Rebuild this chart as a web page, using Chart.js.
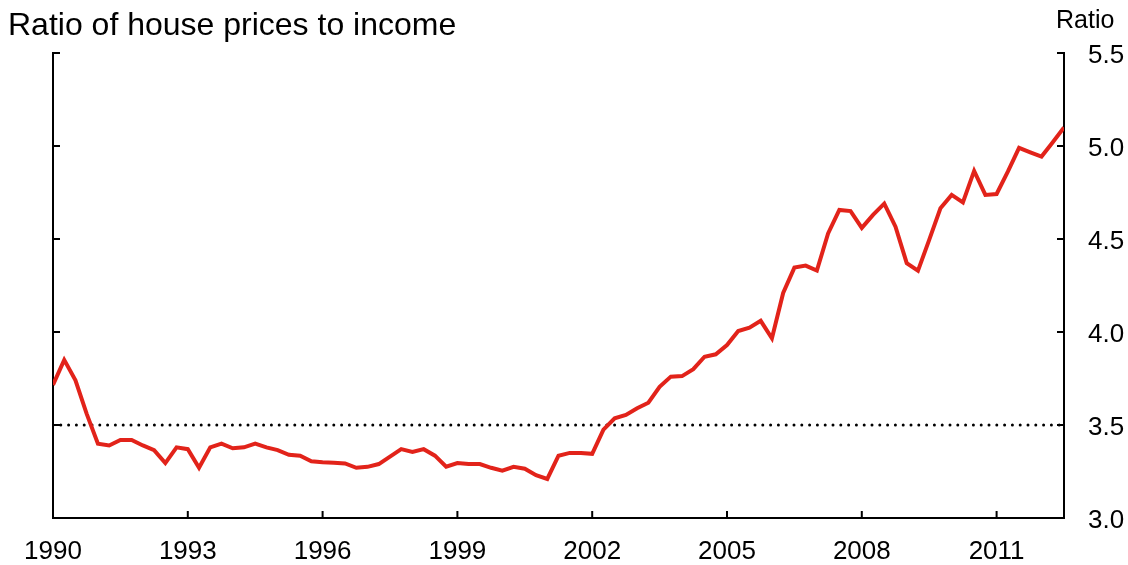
<!DOCTYPE html>
<html>
<head>
<meta charset="utf-8">
<title>Ratio of house prices to income</title>
<script src="https://cdn.jsdelivr.net/npm/chart.js@4.4.1/dist/chart.umd.min.js"></script>
<style>
  html, body { margin: 0; padding: 0; background: #fff; }
</style>
</head>
<body>
<canvas id="chart" width="1128" height="565"></canvas>
<script>
// quarterly series, starting 1990 Q1
const firstYear = 1990;
const ratio = [
  3.715, 3.85, 3.74, 3.56, 3.40, 3.39, 3.42, 3.42, 3.39, 3.365,
  3.295, 3.38, 3.37, 3.27, 3.38, 3.40, 3.375, 3.38, 3.40, 3.38,
  3.365, 3.34, 3.335, 3.305, 3.30, 3.297, 3.293, 3.27, 3.275, 3.29,
  3.33, 3.37, 3.355, 3.37, 3.335, 3.276, 3.295, 3.29, 3.29, 3.27,
  3.255, 3.275, 3.265, 3.23, 3.21, 3.335, 3.35, 3.35, 3.345, 3.475,
  3.536, 3.554, 3.59, 3.62, 3.705, 3.76, 3.763, 3.80, 3.867, 3.88,
  3.93, 4.005, 4.023, 4.06, 3.966, 4.21, 4.346, 4.357, 4.33, 4.53,
  4.656, 4.65, 4.56, 4.63, 4.69, 4.566, 4.37, 4.33, 4.495, 4.665,
  4.737, 4.697, 4.866, 4.737, 4.742, 4.862, 4.99, 4.966, 4.943, 5.02,
  5.10
];
const averageRatio = 3.5;   // dotted reference line
const yearTicks = [1990, 1993, 1996, 1999, 2002, 2005, 2008, 2011];
const ratioTicks = [3.0, 3.5, 4.0, 4.5, 5.0, 5.5];

const titleText = "Ratio of house prices to income";
const unitText = "Ratio";

const xMin = firstYear;
const xMax = firstYear + (ratio.length - 1) / 4;
const points = ratio.map((v, i) => ({ x: firstYear + i / 4, y: v }));

Chart.defaults.font.family = "'Liberation Sans', Arial, sans-serif";
Chart.defaults.color = "#000";

// tick marks point into the plot, so draw them here
const inwardTicks = {
  id: "inwardTicks",
  afterDraw(chart) {
    const ctx = chart.ctx;
    const area = chart.chartArea;
    const len = 7;
    ctx.save();
    ctx.strokeStyle = "#000";
    ctx.lineWidth = 2;
    ctx.beginPath();
    const xs = chart.scales.x;
    xs.ticks.forEach(t => {
      const px = xs.getPixelForValue(t.value);
      ctx.moveTo(px, area.bottom);
      ctx.lineTo(px, area.bottom - len);
    });
    const yr = chart.scales.y;
    yr.ticks.forEach(t => {
      const py = yr.getPixelForValue(t.value);
      ctx.moveTo(area.right, py);
      ctx.lineTo(area.right - len, py);
    });
    const yl = chart.scales.yLeft;
    yl.ticks.forEach(t => {
      const py = yl.getPixelForValue(t.value);
      ctx.moveTo(area.left, py);
      ctx.lineTo(area.left + len, py);
    });
    ctx.stroke();

    // titles
    ctx.fillStyle = "#000";
    ctx.textBaseline = "alphabetic";
    ctx.textAlign = "left";
    ctx.font = "32px 'Liberation Sans', Arial, sans-serif";
    ctx.fillText(titleText, 8, 35);
    ctx.font = "25px 'Liberation Sans', Arial, sans-serif";
    ctx.fillText(unitText, 1056, 28);
    ctx.restore();
  }
};

const setTicks = list => scale => { scale.ticks = list.map(v => ({ value: v })); };

new Chart(document.getElementById("chart"), {
  type: "line",
  plugins: [inwardTicks],
  data: {
    datasets: [
      {
        data: points,
        borderColor: "#e2231a",
        borderWidth: 4,
        pointRadius: 0,
        tension: 0,
        yAxisID: "y"
      },
      {
        data: [{ x: xMin, y: averageRatio }, { x: xMax, y: averageRatio }],
        borderColor: "#000",
        borderWidth: 3,
        borderDash: [0, 7.8],
        borderCapStyle: "round",
        pointRadius: 0,
        yAxisID: "y"
      }
    ]
  },
  options: {
    responsive: false,
    animation: false,
    layout: { padding: { left: 53, top: 53, right: 0, bottom: 0 } },
    plugins: {
      legend: { display: false },
      tooltip: { enabled: false }
    },
    scales: {
      x: {
        type: "linear",
        position: "bottom",
        min: xMin,
        max: xMax,
        afterBuildTicks: setTicks(yearTicks),
        afterFit: s => { s.height = 47; },
        grid: { display: false },
        border: { color: "#000", width: 2 },
        ticks: {
          font: { size: 26 },
          padding: 10,
          maxRotation: 0,
          autoSkip: false,
          callback: v => String(v)
        }
      },
      y: {
        type: "linear",
        position: "right",
        min: 3,
        max: 5.5,
        afterBuildTicks: setTicks(ratioTicks),
        afterFit: s => { s.width = 64; },
        grid: { display: false },
        border: { color: "#000", width: 2 },
        ticks: {
          font: { size: 26 },
          padding: 16,
          labelOffset: 3,
          callback: v => v.toFixed(1)
        }
      },
      yLeft: {
        type: "linear",
        position: "left",
        min: 3,
        max: 5.5,
        afterBuildTicks: setTicks(ratioTicks),
        afterFit: s => { s.width = 0; },
        grid: { display: false },
        border: { color: "#000", width: 2 },
        ticks: { display: false }
      }
    }
  }
});
</script>
</body>
</html>
